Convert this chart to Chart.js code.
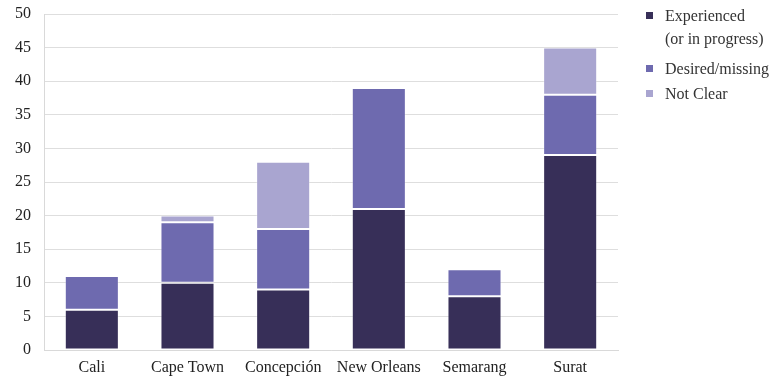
<!DOCTYPE html>
<html>
<head>
<meta charset="utf-8">
<script src="https://cdn.jsdelivr.net/npm/chart.js@4"></script>
<style>
  body { margin: 0; background: #fff; }
  #wrap { position: relative; width: 770px; height: 380px; }
  #legend { position: absolute; left: 0; top: 0; font-family: "Liberation Serif", "Times New Roman", serif; font-size: 16px; color: #333; }
  .txt { position: absolute; left: 665px; line-height: 23px; white-space: nowrap; }
  .box { position: absolute; left: 646px; width: 7px; height: 7px; }
</style>
</head>
<body>
<div id="wrap">
  <canvas id="chart" width="770" height="380"></canvas>
  <div id="legend"></div>
</div>
<script>
const cities = ['Cali', 'Cape Town', 'Concepción', 'New Orleans', 'Semarang', 'Surat'];
const experienced = [6, 10, 9, 21, 8, 29];
const desired = [5, 9, 9, 18, 4, 9];
const notClear = [0, 1, 10, 0, 0, 7];
const seriesNames = [['Experienced', '(or in progress)'], ['Desired/missing'], ['Not Clear']];
const colors = ['#372f58', '#6e6aaf', '#a9a5d0'];

const font = { family: '"Liberation Serif", "Times New Roman", serif', size: 16 };

function ds(label, data, color) {
    return {
        label: label.join(' '),
        data: data,
        backgroundColor: color,
        borderColor: 'rgba(255,255,255,0.25)',
        borderWidth: 1,
        borderSkipped: false,
        barPercentage: 0.565,
        categoryPercentage: 1,
    };
}

new Chart(document.getElementById('chart'), {
    type: 'bar',
    data: {
        labels: cities,
        datasets: [
            ds(seriesNames[0], experienced, colors[0]),
            ds(seriesNames[1], desired, colors[1]),
            ds(seriesNames[2], notClear, colors[2]),
        ],
    },
    options: {
        responsive: false,
        animation: false,
        layout: { padding: { top: 14, right: 152, left: 2, bottom: 0 } },
        plugins: { legend: { display: false }, tooltip: { enabled: false } },
        scales: {
            x: {
                stacked: true,
                grid: { display: false },
                border: { color: '#d9d9d9' },
                ticks: { font: font, color: '#222', padding: 0, maxRotation: 0 },
                afterFit: (s) => { s.height = 30; s.paddingLeft = 0; s.paddingRight = 0; },
            },
            y: {
                stacked: true,
                min: 0,
                max: 50,
                ticks: { stepSize: 5, font: font, color: '#222', padding: 13 },
                grid: { color: '#dedede', drawTicks: false },
                border: { color: '#d9d9d9' },
                afterFit: (s) => { s.paddingTop = 0; s.paddingBottom = 0; },
            },
        },
    },
});

// legend (positions)
const legend = document.getElementById('legend');
const textTops = [4, 57, 82];
const boxTops = [12, 65, 90];
seriesNames.forEach((lines, i) => {
    const box = document.createElement('div');
    box.className = 'box';
    box.style.top = boxTops[i] + 'px';
    box.style.background = colors[i];
    legend.appendChild(box);
    const txt = document.createElement('div');
    txt.className = 'txt';
    txt.style.top = textTops[i] + 'px';
    txt.innerHTML = lines.join('<br>');
    legend.appendChild(txt);
});
</script>
</body>
</html>
